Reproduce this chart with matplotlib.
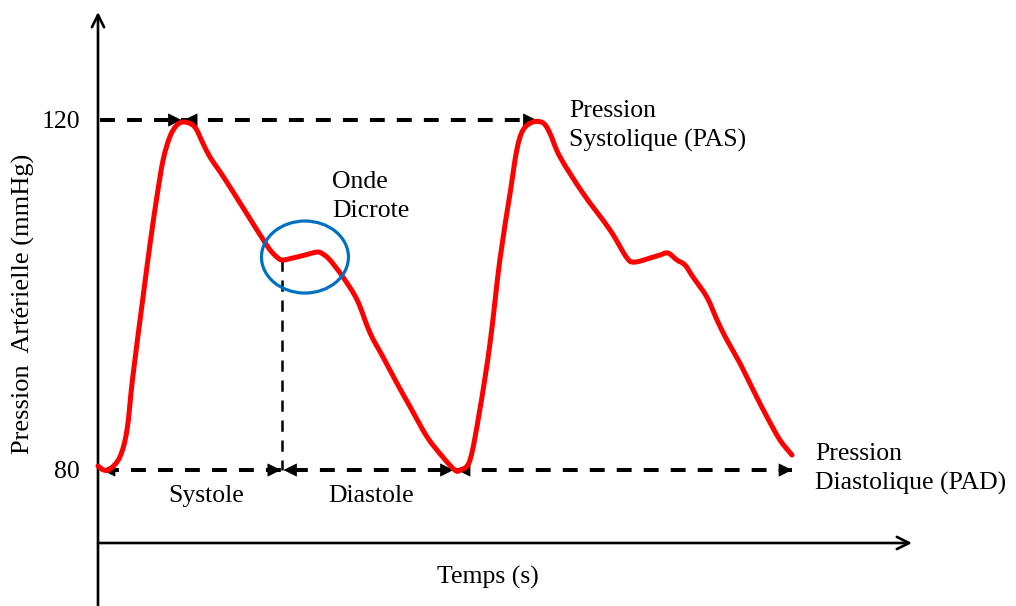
import numpy as np
import matplotlib.pyplot as plt
from matplotlib.patches import Ellipse, PathPatch
from matplotlib.path import Path

plt.rcParams['font.family'] = ['Liberation Serif', 'DejaVu Serif']

# pressure curve: time (s), pressure (mmHg)
t_cycle1 = [0.000, 0.013, 0.027, 0.049, 0.065, 0.078, 0.101, 0.117, 0.132, 0.146,
            0.161, 0.177, 0.195, 0.217, 0.235, 0.251, 0.274, 0.303, 0.341, 0.368,
            0.386, 0.401, 0.413, 0.437, 0.464, 0.491, 0.504, 0.520, 0.549, 0.581,
            0.610, 0.639, 0.670, 0.700, 0.738, 0.773, 0.800]
p_cycle1 = [80.46, 80.00, 80.11, 81.49, 84.57, 90.63, 99.77, 105.94, 111.20, 115.43,
            118.06, 119.43, 119.77, 119.20, 117.37, 115.77, 114.06, 111.77, 108.69, 106.51,
            105.14, 104.34, 104.00, 104.23, 104.57, 104.91, 104.69, 104.00, 102.06, 99.43,
            95.66, 92.91, 89.94, 87.20, 83.77, 81.49, 80.00]

t_cycle2 = [0.812, 0.834, 0.856, 0.879, 0.901, 0.924, 0.939, 0.953, 0.975, 0.998,
            1.013, 1.036, 1.087, 1.148, 1.186, 1.204, 1.238, 1.260, 1.278, 1.298,
            1.316, 1.334, 1.365, 1.388, 1.410, 1.439, 1.469, 1.500, 1.529, 1.556]
p_cycle2 = [80.00, 81.14, 86.86, 94.51, 104.00, 111.66, 116.57, 118.86, 119.77, 119.66,
            118.51, 115.77, 111.66, 107.43, 104.23, 103.77, 104.23, 104.57, 104.80, 104.00,
            103.43, 102.06, 99.77, 97.14, 94.86, 92.23, 89.14, 86.06, 83.43, 81.71]

pas = 120
pad = 80
y_ticks = [pas, pad]
y_tick_labels = ['120', '80']

t = np.array(t_cycle1 + t_cycle2)
p = np.array(p_cycle1 + p_cycle2)

# key instants taken from the curve
t_peak1 = t_cycle1[int(np.argmax(p_cycle1))]
t_peak2 = t_cycle2[int(np.argmax(p_cycle2))]
i_notch = 22
t_notch, p_notch = t_cycle1[i_notch], p_cycle1[i_notch]
t_start = t_cycle1[1]
t_end1 = t_cycle1[-1]
t_end = t_cycle2[-1]


def smooth_path(x, y):
    # bezier path through the points (catmull-rom control points)
    pts = np.column_stack([x, y])
    verts = [pts[0]]
    codes = [Path.MOVETO]
    n = len(pts)
    for i in range(n - 1):
        p0 = pts[i - 1] if i > 0 else pts[i]
        p1 = pts[i]
        p2 = pts[i + 1]
        p3 = pts[i + 2] if i + 2 < n else pts[i + 1]
        verts += [p1 + (p2 - p0) / 6, p2 - (p3 - p1) / 6, p2]
        codes += [Path.CURVE4] * 3
    return Path(verts, codes)


fig = plt.figure(figsize=(10.16, 6.06), dpi=100)
ax = fig.add_axes([0, 0, 1, 1])
ax.set_xlim(-0.2197, 2.0582)
ax.set_ylim(64.46, 133.714)
ax.axis('off')

# axes drawn as arrows
x_axis_y = 71.66
ax.annotate('', xy=(0, 132.34), xytext=(0, 64.0),
            arrowprops=dict(arrowstyle='->', lw=1.9, color='k', mutation_scale=22,
                            shrinkA=0, shrinkB=0))
ax.annotate('', xy=(1.825, x_axis_y), xytext=(0, x_axis_y),
            arrowprops=dict(arrowstyle='->', lw=1.9, color='k', mutation_scale=22,
                            shrinkA=0, shrinkB=0))

# dashed guides
dash_kw = dict(color='k', lw=2.9, dashes=(3.7, 3.0), solid_capstyle='butt')
ax.plot([0.004, t_peak2], [pas, pas], **dash_kw)
ax.plot([t_start, t_end], [pad, pad], **dash_kw)
ax.plot([t_notch, t_notch], [p_notch, pad], color='k', lw=1.8, dashes=(4.5, 3.5))


def head(x, y, direction):
    dx = 0.01 * direction
    ax.annotate('', xy=(x, y), xytext=(x - dx, y),
                arrowprops=dict(arrowstyle='-|>', lw=0.5, color='k', mutation_scale=22,
                                shrinkA=0, shrinkB=0))


head(t_peak1 - 0.008, pas, 1)
head(t_peak1 - 0.002, pas, -1)
head(t_peak2 + 0.008, pas, 1)
head(t_start - 0.004, pad, -1)
head(t_notch - 0.003, pad, 1)
head(t_notch + 0.003, pad, -1)
head(t_end1 - 0.003, pad, 1)
head(t_end1 + 0.005, pad, -1)
head(t_end, pad, 1)

# pressure curve
ax.add_patch(PathPatch(smooth_path(t, p), fill=False, ec='#FF0000', lw=3.6,
                       joinstyle='round', capstyle='round', zorder=3))

# dicrotic wave marker
ax.add_patch(Ellipse((0.464, 104.34), 0.195, 8.23, fill=False, ec='#0070C0', lw=2.3,
                     zorder=4))

fs = 18.5
for val, lab in zip(y_ticks, y_tick_labels):
    ax.text(-0.040, val - 0.95, lab, ha='right', va='baseline', fontsize=fs)

ax.text(-0.166, 98.97, 'Pression  Artérielle (mmHg)', rotation=90, ha='center',
        va='center', fontsize=19)
ax.text(0.760, 67.05, 'Temps (s)', ha='left', va='baseline', fontsize=fs)
ax.text(0.242, 76.38, 'Systole', ha='center', va='baseline', fontsize=fs)
ax.text(0.612, 76.38, 'Diastole', ha='center', va='baseline', fontsize=fs)
ax.text(0.525, 112.19, 'Onde', ha='left', va='baseline', fontsize=fs)
ax.text(0.525, 108.95, 'Dicrote', ha='left', va='baseline', fontsize=fs)
ax.text(1.056, 120.38, 'Pression', ha='left', va='baseline', fontsize=fs)
ax.text(1.056, 116.95, 'Systolique (PAS)', ha='left', va='baseline', fontsize=fs)
ax.text(1.608, 81.14, 'Pression', ha='left', va='baseline', fontsize=fs)
ax.text(1.608, 77.71, 'Diastolique (PAD)', ha='left', va='baseline', fontsize=fs)

fig.savefig('out.png', dpi=100)
